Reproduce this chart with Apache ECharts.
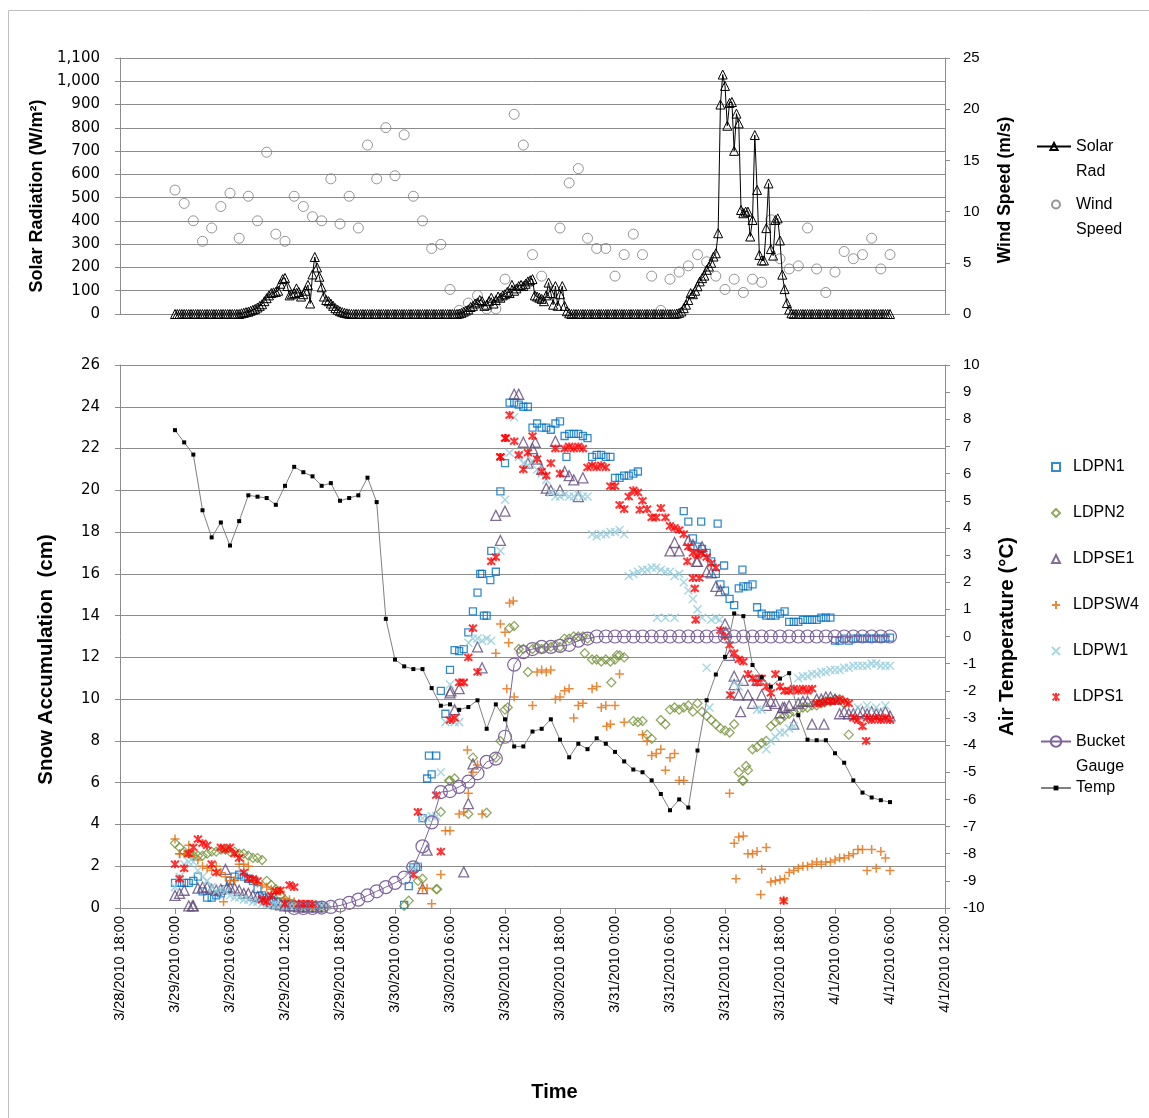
<!DOCTYPE html>
<html><head><meta charset="utf-8">
<script src="https://cdn.jsdelivr.net/npm/echarts@6/dist/echarts.min.js"></script>
<style>html,body{margin:0;padding:0;background:#fff}#c{width:1149px;height:1118px}</style>
</head><body><div id="c"></div><script>
// ---- time axis tick labels (hours from 3/29/2010 0:00, ticks every 6 h from -6 to 84)
const xTickLabels = ['3/28/2010 18:00','3/29/2010 0:00','3/29/2010 6:00','3/29/2010 12:00','3/29/2010 18:00','3/30/2010 0:00','3/30/2010 6:00','3/30/2010 12:00','3/30/2010 18:00','3/31/2010 0:00','3/31/2010 6:00','3/31/2010 12:00','3/31/2010 18:00','4/1/2010 0:00','4/1/2010 6:00','4/1/2010 12:00'];

// ---- Solar radiation (W/m2), every 15 min from 3/29 0:00
const solarStep = 0.25;
const solarRad = [
0,0,0,0,0,0,0,0,0,0,0,0,0,0,0,0,0,0,0,0,0,0,0,0,0,0,0,0,0,
3,5,8,10,14,18,22,28,35,42,55,68,80,90,93,95,100,130,150,155,120,80,85,90,110,95,75,85,100,125,45,170,245,200,160,115,75,60,55,45,35,25,18,12,8,5,3,1,
0,0,0,0,0,0,0,0,0,0,0,0,0,0,0,0,0,0,0,0,0,0,0,0,0,0,0,0,0,0,0,0,0,0,0,0,0,0,0,0,0,0,0,0,0,0,0,
2,5,10,15,20,30,35,45,50,60,55,35,40,55,70,45,60,75,70,80,85,95,90,125,100,110,120,125,120,130,140,145,150,80,75,70,65,55,80,135,90,40,120,35,85,120,35,12,3,
0,0,0,0,0,0,0,0,0,0,0,0,0,0,0,0,0,0,0,0,0,0,0,0,0,0,0,0,0,0,0,0,0,0,0,0,0,0,0,0,0,0,0,0,0,0,
2,5,11,25,40,60,90,85,100,119,140,154,165,190,204,220,247,261,347,900,1029,980,809,907,911,701,861,819,447,433,440,440,333,404,769,533,254,230,230,369,561,279,251,404,411,316,169,107,47,19,3,
0,0,0,0,0,0,0,0,0,0,0,0,0,0,0,0,0,0,0,0,0,0,0,0,0,0,0,0,0,0,0,0,0,0,0,0,0,0,0,0,0,0,0
];

// ---- Wind speed (m/s), hourly from 3/29 0:00
const windSpeed = [
12.1,10.8,9.1,7.1,8.4,10.5,11.8,7.4,11.5,9.1,15.8,7.8,7.1,11.5,10.5,9.5,9.1,13.2,8.8,11.5,
8.4,16.5,13.2,18.2,13.5,17.5,11.5,9.1,6.4,6.8,2.4,0.35,1.07,1.8,0.5,0.5,3.4,19.5,16.5,5.8,
3.7,2.0,8.4,12.8,14.2,7.4,6.4,6.4,3.7,5.8,7.8,5.8,3.7,0.35,3.4,4.1,4.7,5.8,5.1,3.7,
2.4,3.4,2.1,3.4,3.1,9.2,5.4,4.4,4.7,8.4,4.4,2.1,4.1,6.1,5.4,5.8,7.4,4.4,5.8
];

// ---- Air temperature (°C), hourly from 3/29 0:00
const airTemp = [
7.6,7.15,6.7,4.65,3.65,4.2,3.35,4.25,5.2,5.15,5.1,4.85,5.55,6.25,6.05,5.9,5.55,5.65,5.0,5.1,
5.2,5.85,4.95,0.65,-0.85,-1.1,-1.2,-1.2,-1.9,-2.55,-2.5,-2.7,-2.6,-2.35,-3.4,-2.5,-3.05,-4.05,-4.05,-3.5,
-3.4,-3.05,-3.8,-4.45,-3.95,-4.15,-3.75,-3.95,-4.25,-4.6,-4.9,-5.0,-5.3,-5.8,-6.4,-6.0,-6.3,-4.2,-2.35,-1.4,
-0.75,0.85,0.75,-1.05,-1.5,-1.85,-1.55,-1.35,-2.9,-3.8,-3.82,-3.82,-4.3,-4.65,-5.3,-5.75,-5.93,-6.03,-6.1
];

// ---- Bucket gauge (cm), hourly from 3/29 13:00
const bucketStart = 13;
const bucketGauge = [
0,0,0,0.02,0.05,0.12,0.25,0.4,0.6,
0.8,1.0,1.2,1.45,1.95,2.95,4.1,5.55,5.6,5.8,
6.05,6.45,7.0,7.15,8.2,11.65,12.25,12.4,12.5,12.5,
12.55,12.6,12.8,12.9,
13,13,13,13,13,13,13,13,13,13,13,13,13,13,13,13,13,13,13,13,13,13,13,13,13,13,13,13,13,13,13,13,13
];

// ---- Snow depth sensors (cm), every 30 min from 3/29 0:00 (null = no reading)
const sensorStep = 0.5;
const LDPN1 = [
1.2,1.2,1.2,1.2,1.3,1.5,0.8,0.5,0.5,0.6,0.7,0.9,1.3,1.5,1.6,1.5,1.4,1.3,0.9,0.6,0.5,0.4,0.3,0.3,0.2,0.2,0.15,0.1,0.1,0.1,0.1,0.1,
null,null,null,null,null,null,null,null,null,null,null,null,null,null,null,null,null,null,
0.15,1.05,1.95,1.97,4.3,6.2,6.4,7.3,10.4,9.3,
11.4,12.35,12.3,12.4,13.2,14.2,15.1,16.0,14.0,17.1,
16.1,19.95,21.3,24.2,24.2,24.1,24.0,24.0,23.0,23.2,
23.0,23.0,22.9,23.2,23.3,22.6,22.7,22.7,22.7,22.6,
22.5,21.6,21.7,21.7,21.6,21.6,20.6,20.6,20.7,20.7,
20.8,20.9,
null,null,null,null,null,null,null,null,null,
19.0,18.5,17.7,17.3,17.2,17.0,16.6,16.0,15.5,
15.2,14.8,14.5,15.3,15.4,15.4,15.5,14.4,14.1,14.0,
14.0,14.0,14.1,14.2,13.7,13.7,13.7,13.8,13.8,13.8,
13.8,13.9,13.9,13.9,12.8,12.8,12.9,12.8,12.9,12.9,
12.9,12.9,12.9,12.9,12.9,12.9,12.95
];
const LDPN1_extra = [[57.4,18.5],[59.2,18.4],[59.9,16.4],[61.9,16.2],[33.3,16.0],[34.4,15.7],[33.7,14.0],[27.7,7.3],[42.7,21.6]];

const LDPN2 = [
3.1,2.9,2.7,2.6,2.5,2.5,2.5,2.6,2.7,2.7,2.8,2.8,2.7,2.7,2.6,2.6,2.5,2.4,2.4,2.3,1.3,1.1,0.9,0.6,0.4,0.2,0.1,0.1,0.05,0.05,0.05,0.05,0.05,0.05,
null,null,null,null,null,null,null,null,null,null,null,null,null,null,null,null,
0.1,0.35,null,1.3,1.4,null,null,0.9,4.6,null,
6.1,6.2,null,null,4.5,7.2,null,null,4.56,null,
7.2,8.0,9.5,13.4,13.5,12.4,12.4,11.3,12.4,12.5,
12.4,12.5,12.5,12.6,12.5,12.9,12.9,13.0,13.0,13.0,
12.9,11.9,11.9,11.8,11.9,11.8,11.9,12.1,12.0,null,
8.95,8.9,8.95,8.3,8.1,null,9.0,8.8,9.5,9.6,
9.5,9.6,9.7,9.4,9.8,9.4,9.2,9.0,8.8,8.6,
8.5,8.4,8.8,6.5,6.1,6.6,7.6,7.7,7.9,8.0,
8.7,8.9,9.0,9.2,9.3,9.4,9.5,9.6,9.6,9.7,
9.7,9.8,9.9,9.9,10.0,10.0,9.8,8.3,null,null,
null,null,null,null,null,null,null
];
const LDPN2_extra = [[61.9,6.1],[62.3,6.8],[47.6,10.8],[44.7,12.2],[48.2,12.1],[28.6,0.9],[36.3,9.6],[29.9,6.1]];

const LDPSE1 = [
0.6,0.7,0.85,0.1,0.1,0.95,1.0,1.0,0.9,0.85,0.9,1.85,1.0,0.95,0.85,0.7,0.7,0.6,0.55,0.5,0.4,0.3,0.2,0.15,0.1,0.1,0.1,0.05,0.05,0.05,0.05,0.05,0.05,null,
null,null,null,null,null,null,null,null,null,null,null,null,null,null,null,null,
null,null,null,null,0.93,2.77,null,null,null,null,
10.3,9.5,10.5,1.73,5.0,6.9,12.5,11.5,null,null,
18.8,17.6,19.0,null,24.6,24.6,22.3,21.3,22.0,21.5,
21.0,20.1,20.0,22.35,20.0,20.9,20.7,20.5,19.7,20.6,
null,null,null,null,null,null,null,null,null,null,
null,null,null,null,null,null,null,null,
17.1,17.5,17.1,null,17.6,17.4,16.6,17.3,16.1,16.05,15.4,15.2,
13.6,12.1,11.1,10.2,10.9,10.2,9.8,10.9,10.2,9.7,
9.9,9.8,9.35,9.6,9.7,8.8,9.8,9.9,9.9,8.8,
10.0,10.0,10.1,10.1,10.0,9.3,9.4,9.3,9.3,9.4,
9.4,9.3,9.4,9.3,9.3,9.4,9.2
];
const LDPSE1_extra = [[60.1,13.2],[61.7,9.4],[66.3,9.6],[70.8,8.8],[61,10.7],[1.9,0.1],[5.7,1.0],[30.1,10.4],[39.3,22.3],[56.9,16.6]];

const LDPSW4 = [
3.3,2.6,2.6,3.0,2.5,2.3,2.0,1.9,1.8,2.0,1.7,1.5,1.3,1.3,2.1,2.1,2.0,1.3,1.2,1.1,1.0,0.9,0.8,0.8,0.45,0.4,0.3,0.2,0.15,0.13,0.1,null,
null,null,null,null,null,null,null,null,null,null,null,null,null,null,null,null,null,null,
null,null,null,null,0.95,0.95,0.2,null,1.6,3.7,
3.7,null,4.5,4.6,5.5,6.5,6.85,4.5,null,null,
12.2,13.6,13.2,14.6,10.1,null,null,null,9.7,11.3,
11.4,11.3,11.4,10.0,10.1,10.4,10.5,9.1,9.7,9.8,
null,10.5,10.6,9.6,9.7,8.8,9.7,11.2,8.9,null,
null,null,8.3,8.0,7.3,7.4,7.6,6.6,7.2,7.4,
6.1,6.1,null,null,null,null,null,null,null,null,
null,5.5,3.1,3.4,3.45,2.6,2.6,2.7,1.85,2.9,
1.25,1.3,1.35,1.4,1.7,1.8,1.9,2.0,2.0,2.1,
2.2,2.1,2.2,2.2,2.3,2.4,2.4,2.5,2.6,2.8,
2.8,1.8,2.8,1.9,2.7,2.4,1.8
];
const LDPSW4_extra = [[61.2,1.4],[63.9,0.65],[66.4,0.37],[31.9,7.56],[36.4,12.7],[36.2,10.5],[36.9,14.7],[47.1,8.7],[0.5,2.6],[5.3,0.3]];

const LDPW1 = [
1.0,1.5,2.1,2.2,2.2,1.8,1.5,1.3,1.0,0.8,0.9,0.8,0.6,0.5,0.5,0.4,0.4,0.3,0.3,0.2,0.2,0.15,0.15,0.15,0.1,0.1,0.1,0.1,0.1,0.1,0.15,0.1,0.1,0.1,
null,null,null,null,null,null,null,null,null,null,null,null,null,null,null,null,
null,1.8,1.9,2.0,4.3,4.3,4.4,4.4,6.5,8.9,
10.7,8.9,8.9,10.8,12.7,12.9,12.9,12.8,12.9,12.8,
null,17.1,19.55,21.8,23.5,21.6,21.3,21.2,21.4,21.0,
20.8,20.5,19.9,19.7,19.7,19.8,19.7,19.7,19.8,19.7,
19.7,17.9,17.8,17.9,17.9,18.0,18.0,18.1,17.9,15.9,
16.0,16.1,16.2,16.2,16.3,16.3,16.2,16.1,16.1,15.9,
16.0,15.6,15.2,14.8,14.3,13.9,11.5,13.8,13.9,null,
null,10.2,10.8,10.6,null,null,null,9.5,9.5,7.6,
8.0,8.2,8.4,8.4,8.6,8.7,11.0,11.1,11.1,11.2,
11.2,11.3,11.3,11.4,11.4,11.4,11.5,11.5,11.6,11.6,
11.6,11.6,11.7,11.7,11.6,11.6,11.6
];
const LDPW1_extra = [[52.6,13.9],[53.5,13.9],[54.5,13.9],[58.3,9.6],[59.4,13.8],[74.5,9.6],[75.5,9.7],[76.5,9.6],[77.5,9.7]];

const LDPS1 = [
2.1,1.4,1.9,2.6,2.9,3.3,3.1,3.0,2.1,1.7,2.9,2.8,2.9,2.6,2.4,1.7,1.4,1.4,1.3,0.4,0.3,0.6,0.8,0.85,0.2,1.1,1.0,0.2,0.2,0.2,0.2,null,
null,null,null,null,null,null,null,null,null,null,null,null,null,null,null,null,null,null,
null,null,1.6,4.6,null,null,null,5.4,2.7,null,
9.0,9.1,10.8,10.8,12.0,13.4,11.3,null,null,16.6,
16.8,21.6,22.5,23.6,22.35,21.7,21.0,21.8,22.6,21.5,
20.9,20.7,21.3,22.0,20.8,22.0,22.1,22.0,22.1,22.0,
21.1,21.2,21.1,21.2,21.1,20.2,20.2,19.3,19.1,19.7,
20.0,19.9,19.5,19.1,18.7,18.7,19.15,18.7,18.3,18.2,
18.1,17.9,17.3,17.0,16.9,17.0,16.8,16.5,16.3,13.3,
13.0,12.6,12.2,11.9,11.8,11.2,11.0,10.8,11.0,10.6,
10.3,11.2,10.6,10.4,10.4,10.5,10.4,10.5,10.4,10.5,
9.8,9.8,9.9,9.9,9.9,10.0,9.9,9.8,9.1,9.0,
8.7,9.1,9.0,9.1,9.0,9.1,9.0
];
const LDPS1_extra = [[56.8,13.8],[60.6,10.2],[75.4,8.0],[56.7,15.3],[56.5,15.8],[57.2,15.8],[55.9,16.6],[50.7,19.07],[66.4,0.35],[36.1,22.5],[35.5,21.6]];

// ---------- build library data
function regular(vals, start, step) {
  const out = [];
  vals.forEach((v, i) => { if (v !== null && v !== undefined) out.push([start + i * step, v]); });
  return out;
}
function sensor(vals, extra) { return regular(vals, 0, sensorStep).concat(extra); }

const GRID_C = '#8C8C8C';
const axisLineS = { show: true, onZero: false, lineStyle: { color: GRID_C, width: 1 } };
const tickS = { show: true, length: 5, lineStyle: { color: GRID_C } };
const FONT = 'Liberation Sans';
const clear = 'rgba(0,0,0,0)';

const chart = echarts.init(document.getElementById('c'), null, { renderer: 'canvas' });

const PLUS = 'path://M5,0L5,10M0,5L10,5';
const CROSS = 'path://M0,0L10,10M10,0L0,10';
const STAR = 'path://M0,0L10,10M10,0L0,10M5,-1L5,11';

function scatter(name, data, symbol, size, color, bw) {
  return { name, type: 'scatter', xAxisIndex: 1, yAxisIndex: 2, data, symbol, symbolSize: size,
    itemStyle: { color: clear, borderColor: color, borderWidth: bw }, z: 3 };
}
const legText = (extra) => Object.assign({ fontSize: 16, color: '#000', fontFamily: FONT }, extra);

const option = {
  animation: false,
  backgroundColor: '#fff',
  textStyle: { fontFamily: FONT },
  graphic: [{ type: 'rect', shape: { x: 8.5, y: 10.5, width: 1160, height: 1120 }, style: { fill: 'none', stroke: '#BFBFBF', lineWidth: 1 }, silent: true }],
  grid: [
    { left: 120, top: 58, width: 825, height: 256 },
    { left: 120, top: 365, width: 825, height: 543 }
  ],
  xAxis: [
    { gridIndex: 0, type: 'value', min: -6, max: 84, interval: 6, axisLine: axisLineS, axisTick: { show: false }, axisLabel: { show: false }, splitLine: { show: false } },
    { gridIndex: 1, type: 'value', min: -6, max: 84, interval: 6, axisLine: axisLineS,
      axisTick: { show: true, length: 6, lineStyle: { color: GRID_C } },
      axisLabel: { rotate: 90, margin: 8, fontSize: 14.5, color: '#000', fontFamily: FONT,
        formatter: v => xTickLabels[Math.round((v + 6) / 6)] },
      splitLine: { show: false },
      name: 'Time', nameLocation: 'middle', nameGap: 174,
      nameTextStyle: { fontSize: 20, fontWeight: 'bold', color: '#000', fontFamily: FONT, padding: [0, 0, 0, 44] } }
  ],
  yAxis: [
    { gridIndex: 0, type: 'value', position: 'left', min: 0, max: 1100, interval: 100,
      axisLine: axisLineS, axisTick: tickS,
      axisLabel: { margin: 20, fontSize: 15, color: '#000', fontFamily: 'DejaVu Sans', formatter: v => v.toLocaleString('en-US') },
      splitLine: { show: true, lineStyle: { color: GRID_C, width: 1 } },
      name: 'Solar Radiation (W/m²)', nameLocation: 'middle', nameGap: 72,
      nameTextStyle: { fontSize: 18, fontWeight: 'bold', color: '#000', fontFamily: FONT, padding: [0, 20, 0, 0] } },
    { gridIndex: 0, type: 'value', position: 'right', min: 0, max: 25, interval: 5,
      axisLine: axisLineS, axisTick: tickS,
      axisLabel: { margin: 18, fontSize: 15, color: '#000', fontFamily: FONT },
      splitLine: { show: false },
      name: 'Wind Speed (m/s)', nameLocation: 'middle', nameGap: 51,
      nameTextStyle: { fontSize: 17.5, fontWeight: 'bold', color: '#000', fontFamily: FONT, padding: [0, 8, 0, 0] } },
    { gridIndex: 1, type: 'value', position: 'left', min: 0, max: 26, interval: 2,
      axisLine: axisLineS, axisTick: tickS,
      axisLabel: { margin: 20, fontSize: 15, color: '#000', fontFamily: 'DejaVu Sans' },
      splitLine: { show: true, lineStyle: { color: GRID_C, width: 1 } },
      name: 'Snow Accumulation  (cm)', nameLocation: 'middle', nameGap: 63,
      nameTextStyle: { fontSize: 20.5, fontWeight: 'bold', color: '#000', fontFamily: FONT, padding: [0, 46, 0, 0] } },
    { gridIndex: 1, type: 'value', position: 'right', min: -10, max: 10, interval: 1,
      axisLine: axisLineS, axisTick: tickS,
      axisLabel: { margin: 18, fontSize: 15, color: '#000', fontFamily: FONT },
      splitLine: { show: false },
      name: 'Air Temperature (°C)', nameLocation: 'middle', nameGap: 52,
      nameTextStyle: { fontSize: 20.5, fontWeight: 'bold', color: '#000', fontFamily: FONT } }
  ],
  legend: [
    { data: ['Solar Rad'], left: 1036, top: 109, padding: 0, itemWidth: 34, itemHeight: 9, formatter: () => ' \nSolar\nRad',
      textStyle: legText({ lineHeight: 25 }) },
    { data: ['Wind Speed'], left: 1051, top: 167, padding: 0, itemWidth: 8, itemHeight: 8, formatter: () => ' \nWind\nSpeed',
      textStyle: legText({ lineHeight: 25, padding: [0, 0, 0, 11] }) },
    { data: ['LDPN1','LDPN2','LDPSE1','LDPSW4','LDPW1','LDPS1'], orient: 'vertical', left: 1051, top: 457, padding: 0,
      itemWidth: 8, itemHeight: 8, itemGap: 26,
      textStyle: legText({ lineHeight: 20, padding: [0, 0, 0, 8] }) },
    { data: ['Bucket Gauge'], left: 1040, top: 704, padding: 0, itemWidth: 30, itemHeight: 13, formatter: () => ' \nBucket\nGauge',
      textStyle: legText({ lineHeight: 25 }) },
    { data: ['Temp'], left: 1040, top: 778, padding: 0, itemWidth: 30, itemHeight: 6,
      textStyle: legText({ lineHeight: 20 }) }
  ],
  series: [
    { name: 'Solar Rad', type: 'line', xAxisIndex: 0, yAxisIndex: 0, data: regular(solarRad, 0, solarStep),
      symbol: 'triangle', symbolSize: 9, showAllSymbol: true,
      itemStyle: { color: clear, borderColor: '#000', borderWidth: 1 }, lineStyle: { color: '#000', width: 1 }, z: 3 },
    { name: 'Wind Speed', type: 'scatter', xAxisIndex: 0, yAxisIndex: 1, data: regular(windSpeed, 0, 1),
      symbol: 'circle', symbolSize: 10, itemStyle: { color: clear, borderColor: '#7A7A7A', borderWidth: 1 }, z: 2 },
    scatter('LDPN1', sensor(LDPN1, LDPN1_extra), 'rect', 7, '#0070C0', 1.3),
    scatter('LDPN2', sensor(LDPN2, LDPN2_extra), 'diamond', 9, '#77933C', 1.3),
    scatter('LDPSE1', sensor(LDPSE1, LDPSE1_extra), 'triangle', 10, '#604A7B', 1.3),
    scatter('LDPSW4', sensor(LDPSW4, LDPSW4_extra), PLUS, 9, '#E46C0A', 1.5),
    scatter('LDPW1', sensor(LDPW1, LDPW1_extra), CROSS, 8, '#93CDDD', 1.5),
    scatter('LDPS1', sensor(LDPS1, LDPS1_extra), STAR, 8, '#FF0000', 2),
    { name: 'Bucket Gauge', type: 'line', xAxisIndex: 1, yAxisIndex: 2, data: regular(bucketGauge, bucketStart, 1),
      symbol: 'circle', symbolSize: 13, showAllSymbol: true,
      itemStyle: { color: clear, borderColor: '#7E649E', borderWidth: 1.2 }, lineStyle: { color: '#7E649E', width: 1 }, z: 4 },
    { name: 'Temp', type: 'line', xAxisIndex: 1, yAxisIndex: 3, data: regular(airTemp, 0, 1),
      symbol: 'rect', symbolSize: 4, showAllSymbol: true,
      itemStyle: { color: '#000' }, lineStyle: { color: '#808080', width: 1 }, z: 5 }
  ]
};
chart.setOption(option);
</script></body></html>
